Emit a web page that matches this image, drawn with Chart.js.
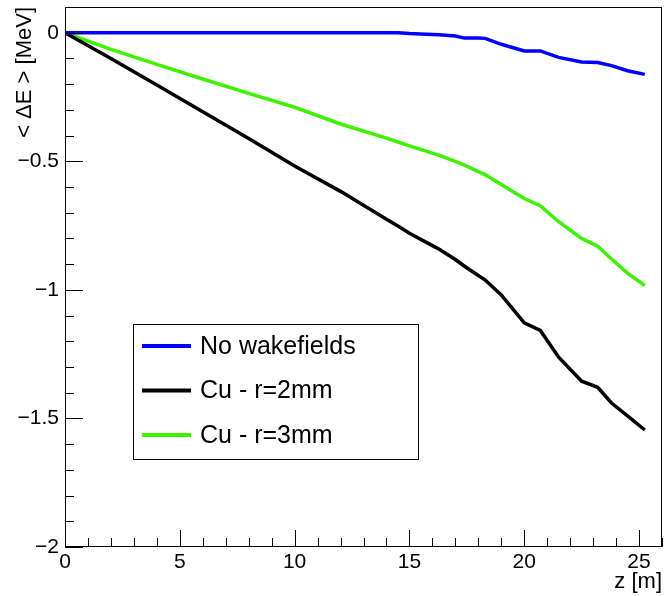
<!DOCTYPE html>
<html>
<head>
<meta charset="utf-8">
<script src="https://cdn.jsdelivr.net/npm/chart.js@4.4.1/dist/chart.umd.min.js"></script>
<style>
  html, body { margin: 0; padding: 0; background: #fff; }
  #wrap { width: 664px; height: 596px; }
</style>
</head>
<body>
<div id="wrap"><canvas id="energyChart" width="664" height="596"></canvas></div>
<script>
// z positions [m] shared by the three curves
const zValues = [0, 2, 4, 6, 8, 10, 12, 14, 14.5, 15, 16, 16.3, 17, 17.4, 18, 18.3, 19, 20, 20.7, 21.5, 22.5, 23.2, 23.8, 24.5, 25.25];
// mean energy change [MeV]
const noWake = [0, 0, 0, 0, 0, 0, 0, 0, 0, -0.003, -0.007, -0.008, -0.013, -0.021, -0.021, -0.022, -0.045, -0.071, -0.071, -0.096, -0.114, -0.116, -0.128, -0.148, -0.162];
const cuR2 = [0, -0.100, -0.203, -0.307, -0.411, -0.518, -0.617, -0.725, -0.752, -0.780, -0.828, -0.842, -0.882, -0.908, -0.944, -0.962, -1.020, -1.128, -1.158, -1.262, -1.355, -1.379, -1.440, -1.490, -1.545];
const cuR3 = [0, -0.065, -0.123, -0.180, -0.236, -0.290, -0.355, -0.410, -0.425, -0.440, -0.468, -0.477, -0.500, -0.515, -0.540, -0.552, -0.590, -0.645, -0.673, -0.735, -0.800, -0.830, -0.880, -0.935, -0.983];
const seriesLabels = ['No wakefields', 'Cu - r=2mm', 'Cu - r=3mm'];
const seriesColors = ['#0000ff', '#000000', '#3ff000'];
const xTicks = [0, 5, 10, 15, 20, 25];
const yTicks = [-2, -1.5, -1, -0.5, 0];

const FONT = "'Liberation Sans', Arial, Helvetica, sans-serif";
const toPoints = vals => vals.map((v, i) => ({ x: zValues[i], y: v }));
const fmt = v => String(v).replace('-', '\u2212');

// ROOT style: inward ticks, frame box and legend box inside the pad
const rootFrame = {
    id: 'rootFrame',
    afterDraw(chart) {
        const { ctx, chartArea: a, scales: { x, y } } = chart;
        ctx.save();
        ctx.strokeStyle = '#000';
        ctx.lineWidth = 1;
        ctx.strokeRect(a.left + 0.5, a.top + 0.5, a.right - a.left - 1, a.bottom - a.top - 1);
        ctx.beginPath();
        for (let v = 0; v <= 26; v++) {
            const px = Math.round(x.getPixelForValue(v)) + 0.5;
            const len = v % 5 === 0 ? 17 : 9;
            ctx.moveTo(px, a.bottom);
            ctx.lineTo(px, a.bottom - len);
        }
        for (let k = -20; k <= 1; k++) {
            const py = Math.round(y.getPixelForValue(k / 10)) + 0.5;
            const len = k % 5 === 0 ? 18 : 9;
            ctx.moveTo(a.left, py);
            ctx.lineTo(a.left + len, py);
        }
        ctx.stroke();

        // legend
        const box = { l: 133, t: 324, r: 418, b: 459 };
        ctx.fillStyle = '#fff';
        ctx.fillRect(box.l, box.t, box.r - box.l, box.b - box.t);
        ctx.strokeRect(box.l + 0.5, box.t + 0.5, box.r - box.l, box.b - box.t);
        ctx.font = '25px ' + FONT;
        ctx.textBaseline = 'middle';
        ctx.textAlign = 'left';
        chart.data.datasets.forEach((ds, i) => {
            const cy = 346 + i * 44.5;
            ctx.strokeStyle = ds.borderColor;
            ctx.lineWidth = 4;
            ctx.beginPath();
            ctx.moveTo(142, cy);
            ctx.lineTo(191, cy);
            ctx.stroke();
            ctx.fillStyle = '#000';
            ctx.fillText(ds.label, 200, cy + 1);
        });
        ctx.restore();
    }
};

new Chart(document.getElementById('energyChart'), {
    type: 'line',
    data: {
        datasets: [noWake, cuR2, cuR3].map((vals, i) => ({
            label: seriesLabels[i],
            data: toPoints(vals),
            borderColor: seriesColors[i],
            borderWidth: 3.5,
            pointRadius: 0,
            tension: 0,
            fill: false
        }))
    },
    options: {
        responsive: false,
        animation: false,
        layout: { padding: { top: 7, right: 2, left: 0, bottom: 0 } },
        plugins: { legend: { display: false }, tooltip: { enabled: false } },
        scales: {
            x: {
                type: 'linear',
                min: 0,
                max: 26,
                grid: { display: false, drawTicks: false },
                border: { display: false },
                afterBuildTicks: s => { s.ticks = xTicks.map(v => ({ value: v })); },
                afterFit: s => { s.height = 49; s.paddingLeft = 0; s.paddingRight = 0; },
                ticks: { color: '#000', font: { family: FONT, size: 21 }, padding: 3, maxRotation: 0, callback: v => fmt(v) },
                title: { display: true, text: 'z [m]', align: 'end', color: '#000', font: { family: FONT, size: 22 }, padding: { top: 1, bottom: 1 } }
            },
            y: {
                type: 'linear',
                min: -2,
                max: 0.1,
                grid: { display: false, drawTicks: false },
                border: { display: false },
                afterBuildTicks: s => { s.ticks = yTicks.map(v => ({ value: v })); },
                afterFit: s => { s.width = 65; s.paddingTop = 0; s.paddingBottom = 0; },
                ticks: { color: '#000', font: { family: FONT, size: 21 }, padding: 6, callback: v => fmt(v) },
                title: { display: true, text: '< \u0394E > [MeV]', align: 'end', color: '#000', font: { family: FONT, size: 22 }, padding: { top: 12, bottom: 0 } }
            }
        }
    },
    plugins: [rootFrame]
});
</script>
</body>
</html>
